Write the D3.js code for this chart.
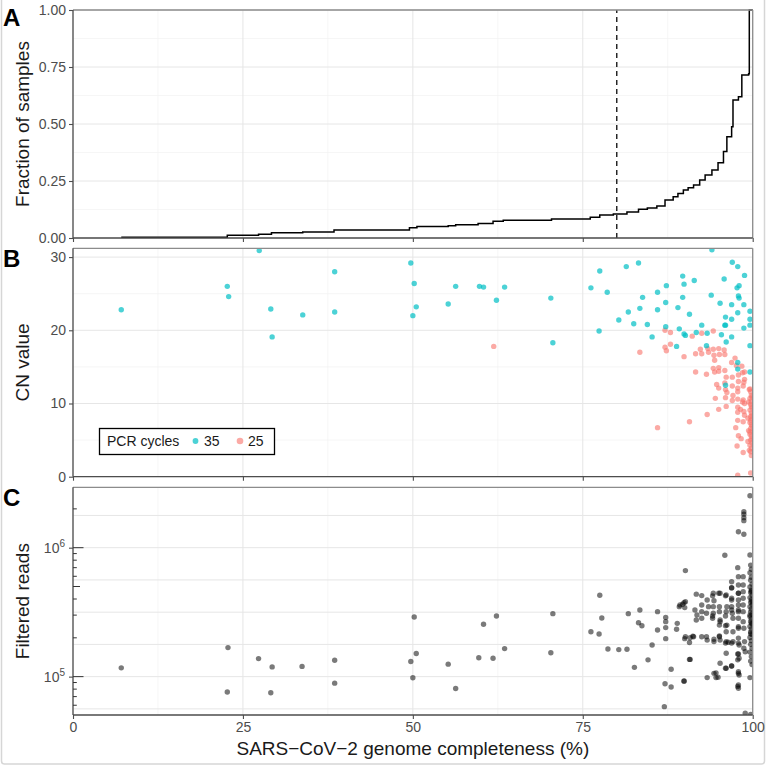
<!DOCTYPE html>
<html><head><meta charset="utf-8">
<script src="https://cdn.jsdelivr.net/npm/d3@7"></script>
<style>body{margin:0;background:#fff}svg{display:block;font-family:"Liberation Sans",Arial,Helvetica,sans-serif}</style>
</head><body><svg id="chart" width="767" height="768"></svg>
<script>
// ---------- data ----------
const ecdfX=[7.1,22.7,27.3,29.2,33.8,38.4,49.5,50.6,55.2,56.3,59.6,61.8,63.3,70.4,76.1,77.5,79.5,81.5,83.2,84.5,85.9,87.1,88.3,89.0,89.8,90.5,91.3,92.2,93.0,94.0,94.9,95.7,96.2,96.9,97.1,97.9,98.4,99.4,99.5,100];
const ecdfY=[0.003,0.012,0.016,0.023,0.026,0.035,0.045,0.050,0.054,0.058,0.064,0.073,0.078,0.083,0.091,0.101,0.105,0.114,0.126,0.132,0.140,0.167,0.181,0.195,0.210,0.220,0.232,0.254,0.276,0.298,0.330,0.379,0.444,0.488,0.605,0.620,0.715,0.720,1.0,1.0];
const cutoff=80;
const legendLabels=["35","25"];
const cycles35=[[7.1,22.8],[22.7,26.0],[22.9,24.6],[27.4,30.9],[29.1,22.9],[29.3,19.1],[33.8,22.1],[38.5,28.0],[38.5,22.5],
[49.7,29.2],[50.2,26.4],[50.5,23.2],[50.0,22.0],[55.2,23.6],[56.3,26.0],[59.8,26.0],[60.4,25.9],[63.5,25.9],[62.3,24.1],[70.3,24.4],[70.6,18.3],
[94.0,31.0],[77.5,28.1],[81.4,28.7],[83.2,29.2],[76.2,25.8],[78.6,25.2],[83.8,24.5],[86.0,25.2],[87.3,26.1],[89.7,27.4],[89.9,26.3],[91.4,26.8],[97.0,29.3],[97.8,28.7],[98.8,27.5],[95.8,27.0],[98.0,26.1],[97.7,25.8],[97.9,24.7],[98.0,24.4],[93.9,24.8],[89.7,24.5],[87.2,23.8],[83.4,23.0],[81.7,22.5],[80.3,21.4],[82.5,20.9],[84.5,20.8],[86.0,22.8],[89.0,23.1],[90.7,22.2],[95.2,23.7],[96.9,23.5],[98.7,23.5],[99.6,22.6],[96.0,21.8],[96.9,21.5],[99.6,21.5],[95.9,20.7],[98.7,20.3],[99.6,20.7],[77.4,19.9],[87.2,20.5],[89.2,20.2],[92.5,20.7],[85.2,19.1],[89.9,19.5],[90.1,19.3],[91.7,19.7],[93.3,19.6],[95.4,19.4],[96.9,19.1],[88.8,17.8],[93.2,17.9],[96.1,18.4],[99.6,17.9],[97.8,15.6],[99.6,14.3],[96.0,12.5],[97.8,14.7],[97.8,22.4],[96.0,20.7]];
const cycles25=[[61.9,17.8],[83.4,17.0],[86.0,6.7],[87.1,20.0],[87.9,19.7],[87.9,18.1],[87.1,17.7],[87.3,17.2],[89.9,16.4],[91.1,19.2],[92.5,19.6],[94.2,19.9],[91.6,16.8],[92.3,17.4],[92.5,16.8],[93.4,17.5],[93.5,17.0],[94.2,17.4],[94.3,16.6],[94.4,15.9],[95.0,17.5],[95.1,16.7],[95.8,17.3],[95.9,16.7],[96.9,15.6],[91.6,14.3],[93.2,14.0],[94.2,14.8],[94.4,14.3],[95.0,14.9],[95.0,14.4],[95.9,14.5],[96.1,13.6],[95.9,12.8],[97.0,13.6],[97.9,13.9],[97.9,13.0],[98.8,14.3],[98.8,13.3],[97.4,16.2],[97.6,15.2],[98.4,15.1],[98.5,14.2],[98.7,12.9],[98.6,12.4],[94.7,12.6],[95.0,12.1],[96.0,11.9],[96.2,11.5],[97.0,12.4],[97.8,12.1],[99.6,12.0],[94.5,10.7],[96.0,10.8],[97.0,10.4],[97.8,10.6],[98.6,10.5],[98.8,10.0],[97.8,9.5],[98.2,9.2],[98.7,8.9],[93.3,8.5],[95.0,9.2],[96.1,9.6],[90.7,7.5],[98.6,3.3],[97.9,5.6],[97.8,0.2],[99.7,0.5],[97.1,11.1],[97.8,11.6],[98.5,10.2],[98.8,8.4],[98.6,7.5],[97.8,8.8],[97.8,7.7],[97.5,6.7],[98.3,5.2],[97.7,4.2],
[99.7,11.6],[99.8,11.1],[99.6,10.7],[99.8,10.3],[99.7,9.9],[99.9,9.4],[99.6,9.1],[99.8,8.7],[99.7,8.2],[99.9,7.9],[99.6,7.4],[99.8,7.1],[99.7,6.6],[99.9,6.2],[99.6,5.8],[99.8,5.5],[99.7,5.0],[99.9,4.6],[99.6,4.3],[99.8,3.9],[99.7,3.4],[99.8,2.9],[99.9,10.9],[99.9,8.4],[99.9,6.9],[99.4,10.2],[99.3,8.0],[99.4,6.3],[99.3,4.8],[99.5,11.9],[99.5,3.6],[99.9,5.2],[99.7,7.7],[99.8,9.6],[99.6,6.1]];
const filteredReads=[[7.1,117000],[22.8,168000],[22.7,76000],[27.3,138000],[29.3,119000],[29.1,75000],[33.7,120000],[38.5,134000],[38.5,89000],
[50.2,290000],[50.5,151000],[49.7,131000],[50.0,98000],[55.2,125000],[56.3,81000],[59.7,140000],[60.4,255000],[62.3,295000],[61.8,139000],[63.5,165000],[70.3,153000],[70.6,308000],
[77.5,428000],[77.8,285000],[76.2,223000],[77.4,214000],[78.7,164000],[80.3,162000],[81.5,163000],[81.7,308000],[83.4,329000],[83.2,262000],[83.7,248000],[82.6,118000],[84.6,135000],[85.2,176000],[86.0,319000],[86.0,230000],[87.2,288000],[87.2,267000],[87.2,240000],[87.2,197000],[87.1,88000],[88.0,83000],[87.0,58500],[88.0,114000],[88.8,233000],[88.9,259000],[89.2,349000],[89.7,364000],[89.9,375000],[90.0,343000],[90.1,664000],[90.0,197000],[89.9,92000],[90.7,184000],[91.2,206000],[90.7,136000],
[94.1,423000],[94.3,388000],[94.1,295000],[94.3,195000],[95.0,443000],[95.1,349000],[95.2,275000],[95.1,207000],[94.9,99000],[94.6,107000],[95.9,873000],[96.0,423000],[96.2,349000],[96.0,295000],[96.0,248000],[96.0,182000],[96.1,152000],[96.0,116000],[96.9,487000],[96.9,393000],[96.9,329000],[96.9,182000],[96.9,121000],[97.8,700000],[97.9,596000],[97.9,443000],[97.9,329000],[97.9,244000],[97.9,182000],[97.8,150000],[97.8,135000],[97.9,106000],[97.8,84000],[97.9,1330000],[98.7,1270000],[98.7,1900000],[98.7,1820000],[98.7,1710000],[98.7,1620000],[99.6,2530000],[99.6,877000],[98.9,52000],
[98.6,596000],[96.9,545000],[96.9,490000],[97.9,514000],[98.6,514000],[91.7,436000],[92.5,425000],[94.2,443000],[95.2,443000],[96.1,430000],[96.9,405000],[97.9,443000],[97.9,393000],[98.6,456000],[98.6,405000],[90.1,381000],[89.3,359000],[91.5,329000],[91.8,301000],[91.7,275000],[92.5,359000],[92.5,319000],[92.5,284000],[93.3,393000],[93.5,349000],[93.2,310000],[94.2,349000],[94.2,310000],[94.1,284000],[95.1,319000],[95.2,267000],[95.1,251000],[96.1,319000],[96.2,251000],[96.1,223000],[96.9,349000],[97.0,310000],[97.1,284000],[97.1,223000],[97.9,359000],[97.9,319000],[97.9,284000],[97.9,237000],[98.6,359000],[98.6,319000],[98.6,267000],[98.7,237000],[90.1,204000],[90.8,200000],[91.3,204000],[92.5,204000],[93.2,204000],[93.3,192000],[94.3,187000],[95.1,204000],[95.2,192000],[96.1,187000],[96.4,185000],[97.1,187000],[97.9,199000],[98.0,176000],[98.8,187000],[98.7,166000],[98.9,156000],[90.8,136000],[95.2,127000],[96.1,116000],[96.9,121000],[97.9,150000],[98.0,139000],[97.9,109000],[98.0,103000],[89.9,92700],[93.3,98300],[94.3,106000],[94.6,98300],[97.9,86300],[97.9,81300],[99.6,98300],[99.7,51000],
[99.7,733000],[99.8,680000],[99.6,640000],[99.8,590000],[99.7,560000],[99.9,520000],[99.6,495000],[99.8,470000],[99.7,450000],[99.9,430000],[99.6,410000],[99.8,395000],[99.7,378000],[99.9,362000],[99.6,348000],[99.8,333000],[99.7,318000],[99.9,305000],[99.6,292000],[99.8,280000],[99.7,268000],[99.9,256000],[99.6,245000],[99.8,234000],[99.7,222000],[99.9,212000],[99.6,201000],[99.8,190000],[99.7,178000],[99.9,166000],[99.6,155000],[99.8,143000],[99.7,132000],[99.9,124000],[99.8,460000],[99.9,380000],[99.6,300000],[99.8,260000],[99.7,215000]];
const xTicks=[0,25,50,75,100], xMinor=[12.5,37.5,62.5,87.5];
const fracTicks=[0,0.25,0.5,0.75,1], fracMinor=[0.125,0.375,0.625,0.875];
const cnTicks=[0,10,20,30], cnMinor=[5,15,25];
const readsTicks=[1e5,1e6], readsGridExp=[4.75,5,5.25,5.5,5.75,6,6.25];

// ---------- layout ----------
const svg=d3.select('#chart');
const L=73,R=752.7;
const x=d3.scaleLinear().domain([0,100]).range([L,R]);
const yA=d3.scaleLinear().domain([0,1]).range([238,10]);
const yB=d3.scaleLinear().domain([0,31.2]).range([476.7,248.3]);
const yC=d3.scaleLog().domain([50400,2940000]).range([715,487.3]);
const axisCol='#4d4d4d', tickTxt='#4d4d4d';

svg.append('rect').attr('x',1.5).attr('y',-4).attr('width',763).attr('height',768).attr('fill','none').attr('stroke','#d6d6d6').attr('stroke-width',1.5).attr('rx',3);

function grid(y, majors, minors){
  const [b,t]=y.range();
  const g=svg.append('g');
  g.selectAll('.vmin').data(xMinor).join('line').attr('x1',d=>x(d)).attr('x2',d=>x(d)).attr('y1',t).attr('y2',b).attr('stroke','#f2f2f2').attr('stroke-width',0.7);
  g.selectAll('.hmin').data(minors).join('line').attr('x1',L).attr('x2',R).attr('y1',d=>y(d)).attr('y2',d=>y(d)).attr('stroke','#f2f2f2').attr('stroke-width',0.7);
  g.selectAll('.vmaj').data(xTicks).join('line').attr('x1',d=>x(d)).attr('x2',d=>x(d)).attr('y1',t).attr('y2',b).attr('stroke','#e6e6e6').attr('stroke-width',1);
  g.selectAll('.hmaj').data(majors).join('line').attr('x1',L).attr('x2',R).attr('y1',d=>y(d)).attr('y2',d=>y(d)).attr('stroke','#e6e6e6').attr('stroke-width',1);
}
function frame(y){
  const [b,t]=y.range();
  svg.append('line').attr('x1',L).attr('x2',R).attr('y1',t).attr('y2',t).attr('stroke','#8c8c8c').attr('stroke-width',1.3);
  svg.append('line').attr('x1',R).attr('x2',R).attr('y1',t).attr('y2',b).attr('stroke','#8c8c8c').attr('stroke-width',1.3);
  svg.append('line').attr('x1',L).attr('x2',L).attr('y1',t).attr('y2',b).attr('stroke',axisCol).attr('stroke-width',1.3);
  svg.append('line').attr('x1',L).attr('x2',R).attr('y1',b).attr('y2',b).attr('stroke',axisCol).attr('stroke-width',1.3);
}
function styleAxis(g){
  g.select('.domain').remove();
  g.selectAll('.tick line').attr('stroke',axisCol).attr('stroke-width',1.1);
  g.selectAll('.tick text').attr('fill',tickTxt).style('font-size','14px').style('font-family','"Liberation Sans",Arial,sans-serif');
}
function xAxis(y, labels){
  const b=y.range()[0];
  const g=svg.append('g').attr('transform',`translate(0,${b})`)
    .call(d3.axisBottom(x).tickValues(xTicks).tickSize(4).tickPadding(3).tickFormat(labels?d3.format('d'):()=>''));
  styleAxis(g);
  return g;
}
function clip(id,y){
  const [b,t]=y.range();
  svg.append('clipPath').attr('id',id).append('rect').attr('x',L).attr('y',t).attr('width',R-L).attr('height',b-t);
}

// ---------- Panel A ----------
grid(yA,fracTicks,fracMinor);
svg.append('line').attr('x1',x(cutoff)).attr('x2',x(cutoff)).attr('y1',yA(0)).attr('y2',yA(1))
  .attr('stroke','#1a1a1a').attr('stroke-width',1.4).attr('stroke-dasharray','5,4');
const ecdfLine=d3.line().x((d,i)=>x(ecdfX[i])).y((d,i)=>yA(ecdfY[i])).curve(d3.curveStepAfter);
svg.append('path').attr('d',ecdfLine(ecdfX)).attr('fill','none').attr('stroke','#000').attr('stroke-width',1.5);
frame(yA);
styleAxis(svg.append('g').attr('transform',`translate(${L},0)`).call(d3.axisLeft(yA).tickValues(fracTicks).tickSize(4).tickPadding(3).tickFormat(d3.format('.2f'))));
xAxis(yA,false);

// ---------- Panel B ----------
grid(yB,cnTicks,cnMinor);
clip('clipB',yB);
const gB=svg.append('g').attr('clip-path','url(#clipB)');
gB.selectAll('.p25').data(cycles25).join('circle').attr('cx',d=>x(d[0])).attr('cy',d=>yB(d[1])).attr('r',2.7).attr('fill','#F8766D').attr('fill-opacity',0.62);
gB.selectAll('.p35').data(cycles35).join('circle').attr('cx',d=>x(d[0])).attr('cy',d=>yB(d[1])).attr('r',2.7).attr('fill','#00BFC4').attr('fill-opacity',0.7);
frame(yB);
styleAxis(svg.append('g').attr('transform',`translate(${L},0)`).call(d3.axisLeft(yB).tickValues(cnTicks).tickSize(4).tickPadding(3)));
xAxis(yB,false);
// legend
const lg=svg.append('g');
lg.append('rect').attr('x',99.5).attr('y',428.5).attr('width',175).attr('height',26).attr('fill','#fff').attr('stroke','#000').attr('stroke-width',1.3);
lg.append('text').attr('x',107).attr('y',446).text('PCR cycles').attr('font-size',14).attr('fill','#1a1a1a');
lg.append('circle').attr('cx',195.5).attr('cy',441).attr('r',2.9).attr('fill','#00BFC4').attr('fill-opacity',0.7);
lg.append('text').attr('x',204).attr('y',446).text(legendLabels[0]).attr('font-size',14).attr('fill','#1a1a1a');
lg.append('circle').attr('cx',240).attr('cy',441).attr('r',3.3).attr('fill','#F8766D').attr('fill-opacity',0.62);
lg.append('text').attr('x',248).attr('y',446).text(legendLabels[1]).attr('font-size',14).attr('fill','#1a1a1a');

// ---------- Panel C ----------
grid(yC,readsGridExp.map(e=>Math.pow(10,e)),[]);
clip('clipC',yC);
const gC=svg.append('g').attr('clip-path','url(#clipC)');
gC.selectAll('circle').data(filteredReads).join('circle').attr('cx',d=>x(d[0])).attr('cy',d=>yC(d[1])).attr('r',2.7).attr('fill','#000').attr('fill-opacity',0.52);
frame(yC);
// log ticks inside panel
const logTicks=[];
for(let e=4;e<=6;e++) for(let k=1;k<=9;k++){const v=k*Math.pow(10,e); if(v>=yC.domain()[0]&&v<=yC.domain()[1]) logTicks.push([v,k]);}
svg.append('g').selectAll('line').data(logTicks).join('line')
  .attr('x1',L).attr('x2',d=>L+(d[1]===1?10.5:d[1]===5?7:3.8)).attr('y1',d=>yC(d[0])).attr('y2',d=>yC(d[0]))
  .attr('stroke','#333').attr('stroke-width',1);
const gyC=svg.append('g').attr('transform',`translate(${L},0)`).call(d3.axisLeft(yC).tickValues(readsTicks).tickSize(4).tickPadding(3).tickFormat(()=>''));
styleAxis(gyC);
gyC.selectAll('.tick text').each(function(d){
  const t=d3.select(this); t.text('');
  t.append('tspan').text('10');
  t.append('tspan').attr('dy',-6).style('font-size','10px').text(Math.round(Math.log10(d)));
}).attr('dx',-1);
xAxis(yC,true);

// ---------- titles ----------
const titleFont=19;
svg.append('text').attr('transform',`translate(29,${(10+238)/2}) rotate(-90)`).attr('text-anchor','middle').attr('font-size',titleFont).attr('fill','#1a1a1a').text('Fraction of samples');
svg.append('text').attr('transform',`translate(29,${(248.3+476.7)/2}) rotate(-90)`).attr('text-anchor','middle').attr('font-size',titleFont).attr('fill','#1a1a1a').text('CN value');
svg.append('text').attr('transform',`translate(29,${(487.3+715)/2}) rotate(-90)`).attr('text-anchor','middle').attr('font-size',titleFont).attr('fill','#1a1a1a').text('Filtered reads');
svg.append('text').attr('x',(L+R)/2).attr('y',755).attr('text-anchor','middle').attr('font-size',titleFont).attr('fill','#1a1a1a').text('SARS\u2212CoV\u22122 genome completeness (%)');
[['A',26],['B',267],['C',506]].forEach(([t,yy])=>svg.append('text').attr('x',3).attr('y',yy).attr('font-size',24).attr('font-weight','bold').attr('fill','#000').text(t));
</script></body></html>
